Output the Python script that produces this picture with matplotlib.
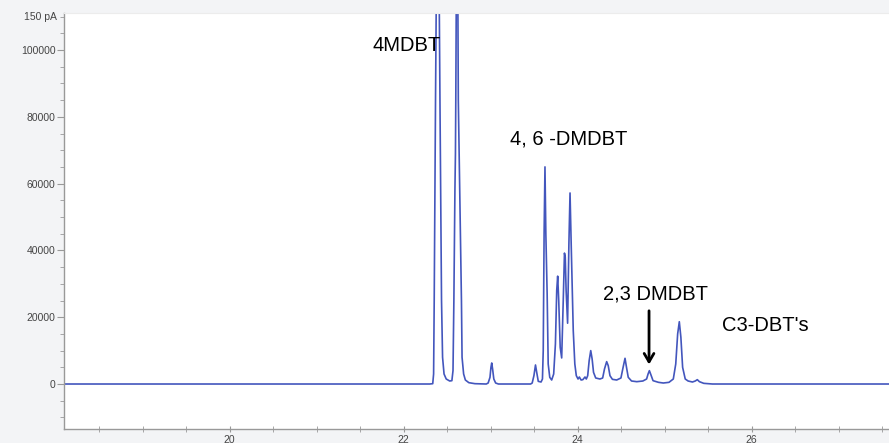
import matplotlib
matplotlib.use("Agg")
import matplotlib.pyplot as plt
from matplotlib.ticker import MultipleLocator, FixedLocator

plt.rcParams['font.family'] = ['Liberation Sans', 'DejaVu Sans']

# retention time (min) and detector signal
time_min = [18.0, 22.30,
            22.335, 22.345, 22.352, 22.367, 22.393, 22.418, 22.436, 22.448, 22.465, 22.49, 22.53, 22.555,
            22.568, 22.578, 22.590, 22.596, 22.600, 22.615, 22.629, 22.665, 22.672, 22.69, 22.71, 22.75, 22.82, 22.95,
            22.972, 22.993, 23.004, 23.013, 23.023, 23.037, 23.058, 23.09, 23.46,
            23.478, 23.498, 23.516, 23.53, 23.548, 23.58,
            23.596, 23.605, 23.615, 23.625, 23.635, 23.65, 23.662, 23.68, 23.702,
            23.725, 23.745, 23.76, 23.771, 23.783, 23.80, 23.817,
            23.835, 23.849, 23.858, 23.868, 23.885,
            23.90, 23.913, 23.928, 23.95, 23.968, 23.985, 24.005,
            24.02, 24.04, 24.06, 24.085, 24.10,
            24.116, 24.133, 24.151, 24.167, 24.183, 24.208, 24.257,
            24.288, 24.309, 24.334, 24.352, 24.372, 24.40, 24.449,
            24.498, 24.523, 24.545, 24.562, 24.582, 24.62, 24.68, 24.75,
            24.793, 24.81, 24.825, 24.842, 24.867, 24.93, 24.985, 25.05,
            25.10, 25.128, 25.15, 25.169, 25.187, 25.207, 25.237, 25.27, 25.32,
            25.352, 25.376, 25.40, 25.45, 25.55, 27.7]
signal = [0, 0,
          100, 3000, 25000, 85000, 175000, 85000, 25000, 8000, 3000, 1500, 900, 1000,
          4000, 25000, 58000, 69000, 85000, 165000, 85000, 25000, 8000, 3000, 1200, 400, 100, 0,
          300, 2000, 5000, 6300, 4500, 1500, 300, 0, 0,
          300, 2500, 5700, 3500, 800, 600,
          1500, 10000, 45000, 65000, 45000, 27000, 6000, 2000, 1200,
          3000, 12000, 28000, 32300, 25000, 11000, 7800,
          25000, 39200, 38000, 28000, 18200,
          42000, 57200, 40000, 16000, 6000, 2500, 1500,
          2100, 1200, 1300, 2100, 1500,
          2500, 7000, 10000, 7500, 3500, 1800, 1500,
          1800, 4500, 6700, 5500, 2500, 1400, 1200,
          1800, 5000, 7700, 5000, 2000, 900, 700, 900,
          1500, 3000, 4000, 2800, 1000, 500, 300, 500,
          1500, 6000, 15000, 18650, 14000, 5000, 1500, 900, 600,
          900, 1300, 700, 200, 0, 0]

peak_labels = ["4MDBT", "4, 6 -DMDBT", "2,3 DMDBT", "C3-DBT's"]
label_x = [21.648, 23.223, 24.292, 25.66]
label_y = [101200, 73300, 27000, 17400]

arrow_x = 24.821
arrow_from = 22750
arrow_to = 5000

x_ticks = [20, 22, 24, 26]
y_ticks = [0, 20000, 40000, 60000, 80000, 100000]

fig = plt.figure(figsize=(8.89, 4.43), dpi=100, facecolor='#f3f4f6')
ax = fig.add_axes([64 / 889, 14 / 443, 1 - 64 / 889, 1 - 14 / 443 - 13 / 443])
ax.set_facecolor('white')

ax.plot(time_min, signal, color='#4356bd', lw=1.2)

for txt, tx, ty in zip(peak_labels, label_x, label_y):
    ax.text(tx, ty, txt, fontsize=14.5, ha='left', va='center', color='black')

ax.annotate('', xy=(arrow_x, arrow_to), xytext=(arrow_x, arrow_from),
            arrowprops=dict(arrowstyle='->,head_length=0.6,head_width=0.35', lw=2, color='black'))

ax.set_xlim(18.097, 27.579)
ax.set_ylim(-13470, 111080)

ax.xaxis.set_major_locator(FixedLocator(x_ticks))
ax.xaxis.set_minor_locator(MultipleLocator(0.5))
ax.yaxis.set_major_locator(FixedLocator(y_ticks))
ax.yaxis.set_minor_locator(MultipleLocator(5000))
ax.set_xticklabels([str(t) for t in x_ticks])
ax.set_yticklabels([str(t) for t in y_ticks])

ax.tick_params(axis='both', which='both', colors='#999999', labelcolor='#444444', labelsize=7.5)
ax.tick_params(axis='y', which='major', length=5, direction='out', pad=1)
ax.tick_params(axis='y', which='minor', length=3, direction='out')
ax.tick_params(axis='x', which='major', length=4, direction='inout', pad=2)
ax.tick_params(axis='x', which='minor', length=4, direction='inout')

for side in ['left', 'bottom']:
    ax.spines[side].set_color('#999999')
    ax.spines[side].set_linewidth(1.0)
ax.spines['top'].set_color('#ececec')
ax.spines['right'].set_visible(False)

fig.text(57 / 889, 1 - 17 / 443, '150 pA', fontsize=7.5, color='#444444', ha='right', va='center')

fig.savefig('out.png', dpi=100, facecolor=fig.get_facecolor())
